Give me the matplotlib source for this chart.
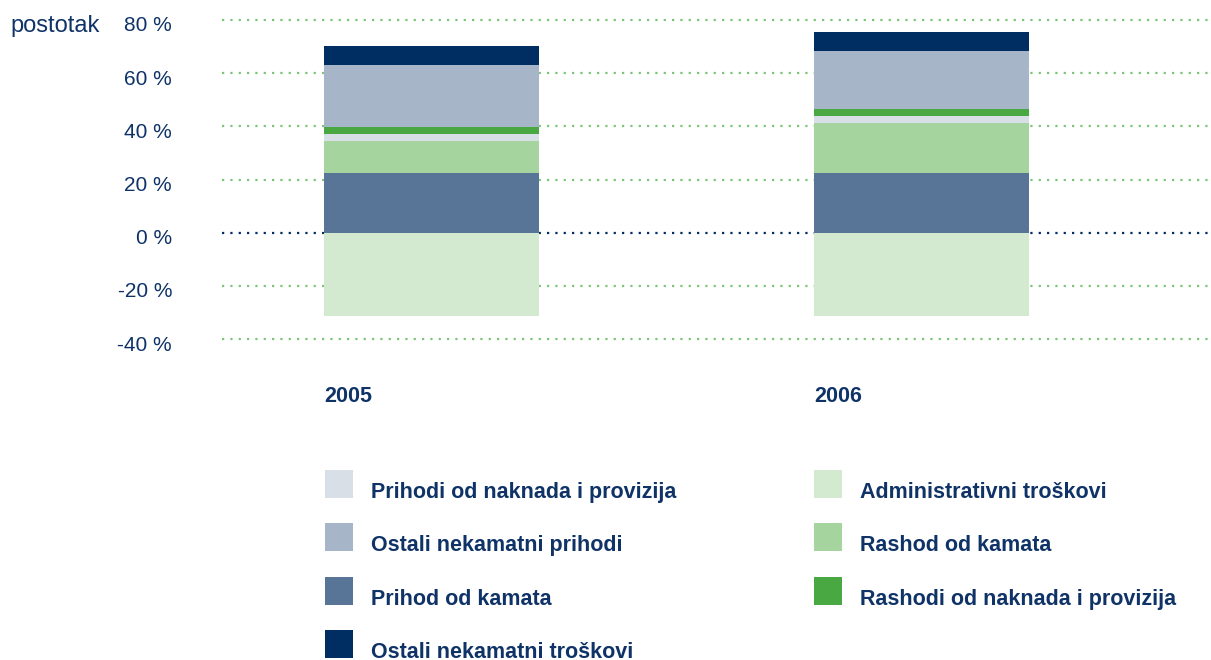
import numpy as np
import matplotlib
matplotlib.use("Agg")
import matplotlib.pyplot as plt
from matplotlib.patches import Rectangle
from matplotlib.transforms import ScaledTranslation

plt.rcParams["font.family"] = ["Liberation Sans", "DejaVu Sans"]

# ---------------------------------------------------------------- data
years = ["2005", "2006"]
# stacked from the zero line upwards, in drawing order
prihod_kamata = [22.6, 22.6]
rashod_kamata = [11.7, 18.5]
prihodi_naknada = [3.0, 2.7]
rashodi_naknada = [2.6, 2.6]
ostali_prihodi = [23.0, 21.9]
ostali_troskovi = [7.2, 7.2]
# below zero
admin_troskovi = [-31.3, -31.3]

y_ticks = [80, 60, 40, 20, 0, -20, -40]
y_labels = ["80 %", "60 %", "40 %", "20 %", "0 %", "-20 %", "-40 %"]

C_NAVY = "#002d62"
C_GREYBLUE = "#a7b5c8"
C_BLUE = "#587497"
C_LIGHTGREY = "#d9dfe7"
C_LIGHTGREEN = "#d3ead1"
C_MIDGREEN = "#a5d49e"
C_GREEN = "#4aa842"
C_TEXT = "#0f3367"
C_GRID = "#7cc577"

W, H = 1211, 660
fig = plt.figure(figsize=(W / 100, H / 100), dpi=100)
ax = fig.add_axes([222 / W, 0.48233, 1 - 222 / W, 0.97373 - 0.48233])

x = np.arange(len(years))
bw = 0.439

# grid lines behind the bars
for t in y_ticks:
    ax.axhline(t, color=C_NAVY if t == 0 else C_GRID, lw=1.6,
               ls=(0, (1, 2.75)), zorder=0)

stack = [(prihod_kamata, C_BLUE), (rashod_kamata, C_MIDGREEN),
         (prihodi_naknada, C_LIGHTGREY), (rashodi_naknada, C_GREEN),
         (ostali_prihodi, C_GREYBLUE), (ostali_troskovi, C_NAVY)]
bottom = np.zeros(len(years))
for vals, col in stack:
    ax.bar(x, vals, bw, bottom=bottom, color=col, lw=0, zorder=2)
    bottom += np.array(vals)
ax.bar(x, admin_troskovi, bw, color=C_LIGHTGREEN, lw=0, zorder=2)

ax.set_xlim(-0.4276, 1.591)
ax.set_ylim(-41, 81)
ax.set_xticks([])
ax.set_yticks(y_ticks)
ax.set_yticklabels(y_labels, fontsize=15, color=C_TEXT)
ax.tick_params(axis="y", length=0, pad=36)
shift = ScaledTranslation(0, -4 / 100, fig.dpi_scale_trans)
for lbl in ax.get_yticklabels():
    lbl.set_transform(lbl.get_transform() + shift)
for s in ax.spines.values():
    s.set_visible(False)

for xi, yr in zip(x, years):
    ax.text(xi - bw / 2, -61.8, yr, fontsize=15.5, fontweight="bold",
            color=C_TEXT, ha="left", va="center", clip_on=False)

fig.text(10 / W, 1 - 31.7 / H, "postotak", fontsize=17, color=C_TEXT,
         va="baseline", ha="left")

# legend, two columns
legend_left = [("Prihodi od naknada i provizija", C_LIGHTGREY),
               ("Ostali nekamatni prihodi", C_GREYBLUE),
               ("Prihod od kamata", C_BLUE),
               ("Ostali nekamatni troškovi", C_NAVY)]
legend_right = [("Administrativni troškovi", C_LIGHTGREEN),
                ("Rashod od kamata", C_MIDGREEN),
                ("Rashodi od naknada i provizija", C_GREEN)]
for col_x, items in [(325, legend_left), (814, legend_right)]:
    for i, (lab, col) in enumerate(items):
        top = 470 + i * 53.3
        fig.add_artist(Rectangle((col_x / W, 1 - (top + 28) / H), 28 / W, 28 / H,
                                 transform=fig.transFigure, color=col, lw=0))
        fig.text((col_x + 46) / W, 1 - (top + 28) / H, lab, fontsize=15.5,
                 fontweight="bold", color=C_TEXT, va="baseline", ha="left")

fig.savefig("out.png", dpi=100)
